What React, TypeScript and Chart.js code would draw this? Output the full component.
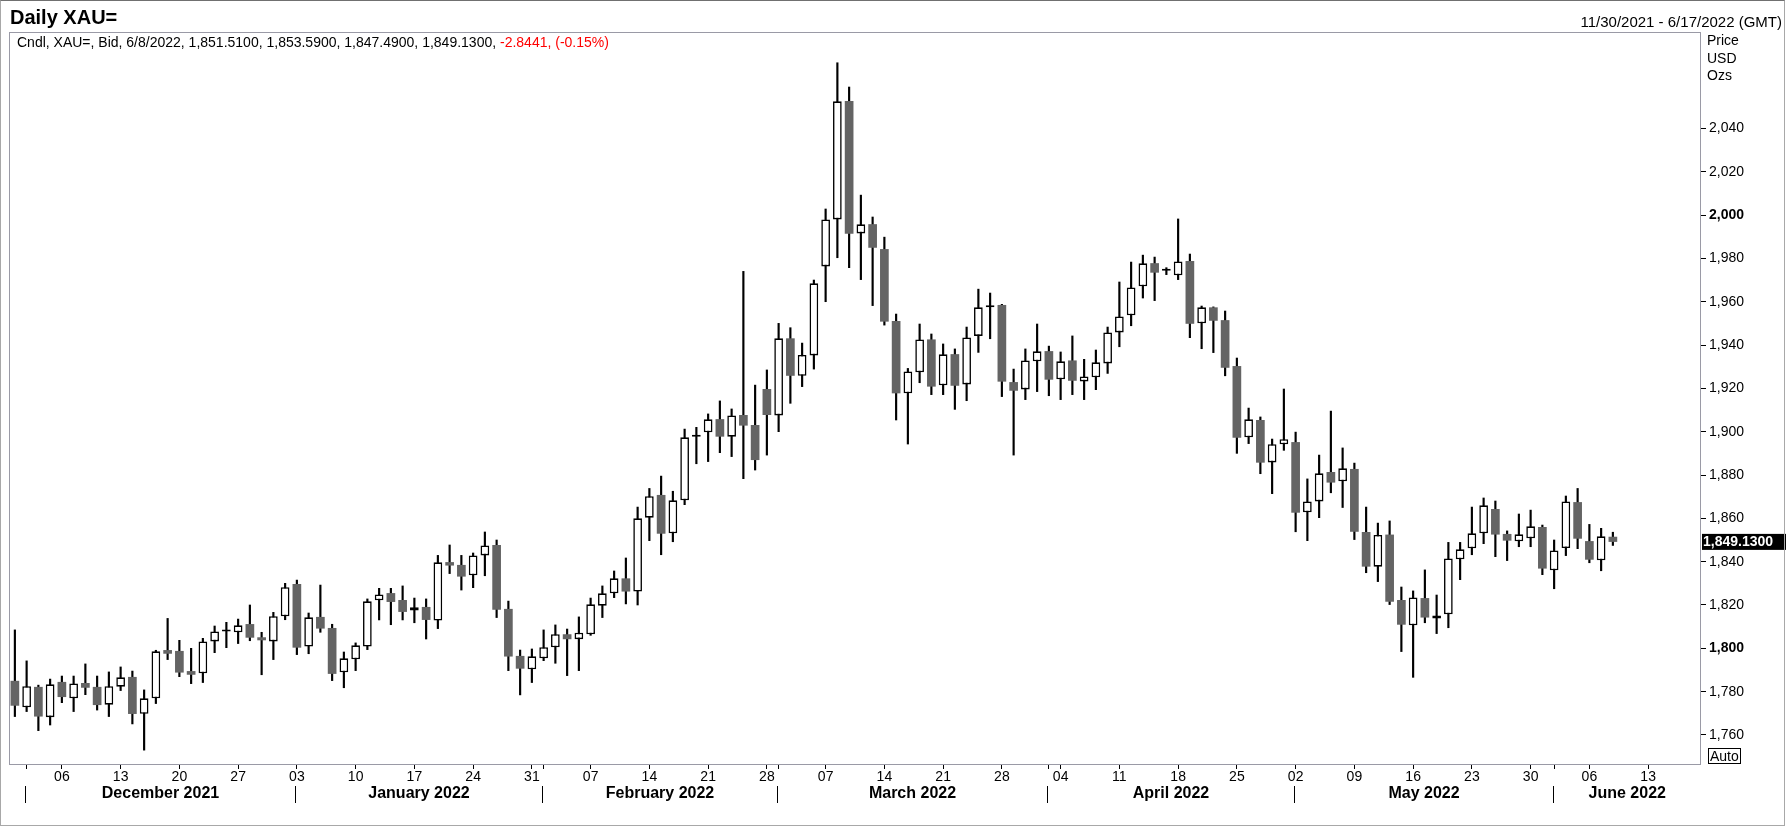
import React, { useEffect, useRef } from 'react';
import { Chart, registerables } from 'chart.js';

Chart.register(...registerables);

const FONT = '"Liberation Sans", Arial, sans-serif';

// weekday slots of the time axis (11/30/2021 - 6/17/2022)
const tradingDays = [
    '2021-11-30',
    '2021-12-01', '2021-12-02', '2021-12-03', '2021-12-06', '2021-12-07', '2021-12-08', '2021-12-09', '2021-12-10',
    '2021-12-13', '2021-12-14', '2021-12-15', '2021-12-16', '2021-12-17', '2021-12-20', '2021-12-21', '2021-12-22',
    '2021-12-23', '2021-12-24', '2021-12-27', '2021-12-28', '2021-12-29', '2021-12-30', '2021-12-31',
    '2022-01-03', '2022-01-04', '2022-01-05', '2022-01-06', '2022-01-07', '2022-01-10', '2022-01-11', '2022-01-12',
    '2022-01-13', '2022-01-14', '2022-01-17', '2022-01-18', '2022-01-19', '2022-01-20', '2022-01-21', '2022-01-24',
    '2022-01-25', '2022-01-26', '2022-01-27', '2022-01-28', '2022-01-31',
    '2022-02-01', '2022-02-02', '2022-02-03', '2022-02-04', '2022-02-07', '2022-02-08', '2022-02-09', '2022-02-10',
    '2022-02-11', '2022-02-14', '2022-02-15', '2022-02-16', '2022-02-17', '2022-02-18', '2022-02-21', '2022-02-22',
    '2022-02-23', '2022-02-24', '2022-02-25', '2022-02-28',
    '2022-03-01', '2022-03-02', '2022-03-03', '2022-03-04', '2022-03-07', '2022-03-08', '2022-03-09', '2022-03-10',
    '2022-03-11', '2022-03-14', '2022-03-15', '2022-03-16', '2022-03-17', '2022-03-18', '2022-03-21', '2022-03-22',
    '2022-03-23', '2022-03-24', '2022-03-25', '2022-03-28', '2022-03-29', '2022-03-30', '2022-03-31',
    '2022-04-01', '2022-04-04', '2022-04-05', '2022-04-06', '2022-04-07', '2022-04-08', '2022-04-11', '2022-04-12',
    '2022-04-13', '2022-04-14', '2022-04-15', '2022-04-18', '2022-04-19', '2022-04-20', '2022-04-21', '2022-04-22',
    '2022-04-25', '2022-04-26', '2022-04-27', '2022-04-28', '2022-04-29',
    '2022-05-02', '2022-05-03', '2022-05-04', '2022-05-05', '2022-05-06', '2022-05-09', '2022-05-10', '2022-05-11',
    '2022-05-12', '2022-05-13', '2022-05-16', '2022-05-17', '2022-05-18', '2022-05-19', '2022-05-20', '2022-05-23',
    '2022-05-24', '2022-05-25', '2022-05-26', '2022-05-27', '2022-05-30', '2022-05-31',
    '2022-06-01', '2022-06-02', '2022-06-03', '2022-06-06', '2022-06-07', '2022-06-08', '2022-06-09', '2022-06-10',
    '2022-06-13', '2022-06-14', '2022-06-15', '2022-06-16', '2022-06-17',
];

const opens = [
    1785, 1772.8, 1782.2, 1768.2, 1784.5, 1776.9, 1784, 1782.2, 1774, 1782.3,
    1786.8, 1769.8, 1776.9, 1799.2, 1798.8, 1789.5, 1788.5, 1803.2, 1807.8, 1807.4,
    1811.2, 1805.1, 1803.2, 1814.8, 1829.7, 1800.8, 1814.5, 1809.4, 1788.9, 1794.9,
    1800.8, 1822.2, 1825.5, 1822.3, 1817.4, 1819.1, 1812.8, 1839.8, 1838.5, 1833.7,
    1842.9, 1847.7, 1818.2, 1796.5, 1790.3, 1795.4, 1800.5, 1806.5, 1804.2, 1806.5,
    1819.7, 1825.4, 1832.3, 1826.2, 1860.3, 1870.8, 1853.1, 1868.3, 1897.7, 1899.7,
    1905.8, 1897.7, 1907.7, 1903.1, 1919.7, 1907.5, 1943.1, 1925.8, 1935.2, 1976.3,
    1998, 2052.6, 1991.5, 1995.8, 1984.3, 1951.1, 1917.7, 1927.4, 1942.6, 1921.4,
    1935.8, 1921.8, 1944.2, 1957.4, 1958.5, 1922.9, 1919.5, 1932.5, 1937.2, 1924.2,
    1932.9, 1923.2, 1925.1, 1931.5, 1945.8, 1953.7, 1967.1, 1977.8, 1974.3, 1972.2,
    1978.8, 1950, 1957.4, 1951.5, 1930.3, 1897.4, 1905.4, 1885.8, 1894.2, 1895.2,
    1862.8, 1867.8, 1881.4, 1877.1, 1882.8, 1853.7, 1837.7, 1852.5, 1822.3, 1810.6,
    1823.2, 1813.8, 1815.7, 1841.1, 1846.2, 1853.1, 1864.3, 1852.8, 1849.4, 1850.8,
    1856, 1836, 1846.3, 1867.5, 1849.5, 1840.6, 1851.51,
];

const highs = [
    1808.5, 1794.2, 1783, 1785.8, 1787.2, 1787.2, 1792.8, 1787.2, 1789.1, 1791.4,
    1789.5, 1780.8, 1799.1, 1813.8, 1803.7, 1800, 1804.6, 1810.3, 1812, 1813.5,
    1820, 1807.4, 1816.6, 1830, 1831.5, 1816.3, 1829.2, 1811.1, 1798.3, 1802.5,
    1822.8, 1827.7, 1827.7, 1828.8, 1823.2, 1822.8, 1842.9, 1847.7, 1842.9, 1844,
    1853.7, 1850, 1821.8, 1799.2, 1799.7, 1808.5, 1810.8, 1808.9, 1814.5, 1823.2,
    1828.8, 1835.7, 1841.7, 1865.2, 1873.8, 1879.5, 1872.5, 1901.2, 1902, 1908.2,
    1914.2, 1910.5, 1974, 1921.5, 1928.5, 1950, 1948, 1940.9, 1970, 2002.8,
    2070.3, 2059.1, 2009.2, 1999.1, 1989.8, 1954.3, 1929.2, 1949.7, 1945.1, 1940.5,
    1938.2, 1948.3, 1965.8, 1964, 1958.8, 1928.9, 1938.2, 1949.7, 1939.5, 1936.8,
    1944.2, 1933.4, 1937.7, 1948.3, 1969.1, 1978.3, 1981.5, 1980.6, 1975.7, 1998.2,
    1982, 1958, 1957.6, 1955.7, 1934, 1910.9, 1906.8, 1896.6, 1919.7, 1899.8,
    1878.2, 1889.2, 1909.5, 1892.5, 1885.5, 1865.2, 1857.8, 1858.8, 1828.3, 1826.5,
    1836.2, 1824.6, 1848.9, 1848.9, 1865.2, 1869.4, 1868, 1854.2, 1862, 1863.8,
    1856.9, 1850, 1870.3, 1873.8, 1857.2, 1855.4, 1853.59,
];

const lows = [
    1768.5, 1770.8, 1762, 1764.6, 1774.9, 1770.8, 1778.6, 1771.5, 1768.5, 1780.5,
    1765.1, 1753, 1774.5, 1794.8, 1786.9, 1783.7, 1784.2, 1798, 1800.3, 1802.2,
    1803.5, 1787.8, 1794.8, 1813.2, 1797.1, 1797.5, 1807.4, 1785.1, 1781.8, 1789.7,
    1799.4, 1813.1, 1810.9, 1813.1, 1811.8, 1804.3, 1809.1, 1834.5, 1826.9, 1828,
    1833.5, 1814.2, 1789.7, 1778.5, 1784.2, 1794.3, 1793.1, 1787.4, 1789.7, 1806,
    1814.2, 1823.4, 1820.5, 1820, 1849.7, 1843.2, 1849.2, 1866.3, 1885.2, 1886.2,
    1890.3, 1888.5, 1878.3, 1882.3, 1889.2, 1900, 1913.1, 1920.8, 1928.9, 1960,
    1980.3, 1975.7, 1970.2, 1958.2, 1949.2, 1905.4, 1894.3, 1922.6, 1917.1, 1917.1,
    1910.3, 1914.3, 1936.6, 1942.9, 1916.2, 1889.2, 1914.8, 1918.5, 1916.6, 1914.8,
    1917.1, 1914.8, 1919.4, 1926.9, 1939.2, 1948.9, 1961.7, 1960.5, 1972.5, 1970.2,
    1943.4, 1938.3, 1936.5, 1925.8, 1890, 1894.5, 1880.6, 1871.4, 1891.4, 1853.8,
    1849.7, 1860.3, 1871.8, 1865, 1850.2, 1834.9, 1830.8, 1820.2, 1798.5, 1786.6,
    1811.8, 1806.8, 1809.5, 1831.7, 1843.2, 1848.3, 1842.3, 1840.5, 1846.9, 1846.9,
    1834, 1827.5, 1842.8, 1846, 1839.5, 1835.8, 1847.49,
];

const closes = [
    1773.5, 1782.5, 1768.5, 1783.4, 1777.5, 1783.8, 1781.8, 1773.8, 1782.5, 1786.6,
    1769.7, 1776.9, 1798.6, 1797.5, 1788.8, 1787.8, 1803.2, 1807.8, 1808, 1810.6,
    1804.9, 1803.7, 1814.8, 1828.2, 1800.3, 1814.3, 1809.1, 1788.2, 1795.4, 1801.4,
    1821.7, 1824.9, 1821.4, 1816.8, 1818.9, 1813.1, 1839.7, 1838.2, 1833.1, 1842.9,
    1847.5, 1817.8, 1796.2, 1790.6, 1796.3, 1800.5, 1806.5, 1804.2, 1807.2, 1820.3,
    1825.4, 1832.3, 1826.2, 1860, 1870.2, 1852.9, 1868.3, 1897.4, 1898, 1905.7,
    1897.7, 1907.5, 1902.8, 1886.9, 1907.7, 1943.1, 1925.8, 1935.4, 1968.5, 1998,
    2052.5, 1991.4, 1995.7, 1984.9, 1950.8, 1917.7, 1927.8, 1942.6, 1920.8, 1935.7,
    1921.2, 1943.5, 1957.4, 1957.6, 1923.1, 1918.9, 1932.9, 1937.1, 1924, 1932.5,
    1923.5, 1925.5, 1932, 1945.8, 1953.2, 1966.6, 1977.7, 1973.4, 1974.5, 1978.6,
    1949.8, 1957.4, 1951.2, 1929.5, 1897.2, 1905.7, 1885.7, 1894.2, 1896.5, 1862.6,
    1867.8, 1880.8, 1876.5, 1883.1, 1853.8, 1837.7, 1852.3, 1821.5, 1810.9, 1823.5,
    1814.2, 1815.2, 1841.5, 1845.7, 1853.1, 1866, 1852.5, 1849.7, 1852.6, 1856.3,
    1836.8, 1845.2, 1867.8, 1850.6, 1840.9, 1851.7, 1849.13,
];

const monthLabels = ['December 2021', 'January 2022', 'February 2022', 'March 2022', 'April 2022', 'May 2022', 'June 2022'];

const isMonday = (d: string) => new Date(d + 'T00:00:00Z').getUTCDay() === 1;
const isMonthStart = (i: number) => i > 0 && tradingDays[i].slice(5, 7) !== tradingDays[i - 1].slice(5, 7);

const decorPlugin = {
    id: 'decor',
    afterDraw(chart: any) {
        const { ctx, chartArea: a, scales } = chart;
        const xs = scales.x;
        const ys = scales.y;
        ctx.save();

        // plot frame
        ctx.strokeStyle = '#9a9aa6';
        ctx.lineWidth = 1;
        ctx.strokeRect(a.left + 0.5, a.top + 0.5, a.right - a.left - 1, a.bottom - a.top);

        // month separators and names
        const starts: number[] = [];
        tradingDays.forEach((_, i) => { if (isMonthStart(i)) starts.push(i); });
        const px = starts.map(i => Math.round(xs.getPixelForValue(i) - 1.5) + 0.5);
        ctx.strokeStyle = '#000';
        ctx.beginPath();
        px.forEach(p => {
            ctx.moveTo(p, a.bottom + 22);
            ctx.lineTo(p, a.bottom + 39);
        });
        ctx.stroke();
        ctx.fillStyle = '#000';
        ctx.font = `bold 16px ${FONT}`;
        ctx.textAlign = 'center';
        ctx.textBaseline = 'middle';
        px.forEach((p, k) => {
            const next = k + 1 < px.length ? px[k + 1] : a.right;
            ctx.fillText(monthLabels[k], (p + next) / 2, a.bottom + 30);
        });

        // last price tag
        const last = closes[closes.length - 1];
        const yy = ys.getPixelForValue(last);
        ctx.fillStyle = '#000';
        ctx.fillRect(a.right + 1, yy - 8, 84, 16);
        ctx.fillStyle = '#fff';
        ctx.font = `bold 14px ${FONT}`;
        ctx.textAlign = 'left';
        ctx.fillText(last.toLocaleString('en-US', { minimumFractionDigits: 4 }), a.right + 2, yy + 0.5);
        ctx.restore();
    },
};

const CandleChart: React.FC = () => {
    const canvasRef = useRef<HTMLCanvasElement>(null);

    useEffect(() => {
        if (!canvasRef.current) return;
        const up = closes.map((c, i) => c >= opens[i]);

        const chart = new Chart(canvasRef.current, {
            type: 'bar',
            data: {
                labels: tradingDays,
                datasets: [
                    {
                        label: 'bodies',
                        data: closes.map((c, i) => [Math.min(opens[i], c), Math.max(opens[i], c)]),
                        backgroundColor: up.map(u => (u ? '#ffffff' : '#646464')),
                        borderColor: up.map(u => (u ? '#000000' : '#646464')),
                        borderWidth: up.map(u => (u ? 1.6 : 0)),
                        borderSkipped: false,
                        minBarLength: 2,
                        grouped: false,
                        barPercentage: 0.74,
                        categoryPercentage: 1,
                        order: 0,
                    } as any,
                    {
                        label: 'wicks',
                        data: lows.map((l, i) => [l, highs[i]]),
                        backgroundColor: '#000000',
                        borderWidth: 0,
                        grouped: false,
                        barThickness: 1.5,
                        order: 1,
                    } as any,
                ],
            },
            options: {
                animation: false,
                responsive: true,
                maintainAspectRatio: false,
                events: [],
                layout: { padding: { left: 9, top: 32, right: 7, bottom: 8 } },
                plugins: {
                    legend: { display: false },
                    tooltip: { enabled: false },
                },
                scales: {
                    x: {
                        type: 'category',
                        offset: true,
                        border: { display: false },
                        grid: { display: true, offset: false, drawOnChartArea: false, drawTicks: true, tickLength: 5, color: '#000' },
                        afterBuildTicks: (scale: any) => {
                            scale.ticks = scale.ticks.filter((t: any) => isMonday(tradingDays[t.value]) || isMonthStart(t.value));
                        },
                        afterFit: (scale: any) => { scale.height = 55; },
                        ticks: {
                            autoSkip: false,
                            maxRotation: 0,
                            padding: 0,
                            color: '#000',
                            font: { family: FONT, size: 14 },
                            callback: (value: any) => {
                                const d = tradingDays[value as number];
                                return isMonday(d) ? d.slice(8) : '';
                            },
                        },
                    },
                    y: {
                        type: 'linear',
                        position: 'right',
                        min: 1746.6,
                        max: 2084.5,
                        border: { display: false },
                        grid: { display: true, drawOnChartArea: false, drawTicks: true, tickLength: 5, color: '#000' },
                        afterBuildTicks: (scale: any) => {
                            scale.ticks = scale.ticks.filter((t: any) => t.value <= 2040);
                        },
                        afterFit: (scale: any) => { scale.width = 80; },
                        ticks: {
                            stepSize: 20,
                            includeBounds: false,
                            padding: 3,
                            color: '#000',
                            font: (c: any) => ({ family: FONT, size: 14, weight: c.tick && c.tick.value % 200 === 0 ? 'bold' : 'normal' }),
                            callback: (v: any) => Number(v).toLocaleString('en-US'),
                        },
                    },
                },
            },
            plugins: [decorPlugin],
        });

        return () => chart.destroy();
    }, []);

    return <canvas ref={canvasRef} />;
};

const txt: React.CSSProperties = { position: 'absolute', fontFamily: FONT, color: '#000', whiteSpace: 'nowrap' };

export default function App() {
    return (
        <div style={{ position: 'relative', width: 1788, height: 827, background: '#fff', overflow: 'hidden' }}>
            <style>{'body{margin:0}'}</style>
            <div style={{ position: 'absolute', left: 0, top: 0, width: 1788, height: 827 }}>
                <CandleChart />
            </div>
            <div style={{ position: 'absolute', left: 0, top: 0, width: 1785, height: 826, boxSizing: 'border-box', border: '1px solid #a8a8a8', borderTopColor: '#707070', pointerEvents: 'none' }} />
            <div style={{ ...txt, left: 10, top: 5, fontSize: 20, lineHeight: '24px', fontWeight: 'bold' }}>Daily XAU=</div>
            <div style={{ ...txt, right: 6, top: 13, fontSize: 15, lineHeight: '17px' }}>11/30/2021 - 6/17/2022 (GMT)</div>
            <div style={{ ...txt, left: 17, top: 34, fontSize: 14, lineHeight: '16px' }}>
                Cndl, XAU=, Bid, 6/8/2022, 1,851.5100, 1,853.5900, 1,847.4900, 1,849.1300,{' '}
                <span style={{ color: '#f00' }}>-2.8441, (-0.15%)</span>
            </div>
            <div style={{ ...txt, left: 1707, top: 32, fontSize: 14, lineHeight: '17.7px' }}>
                Price<br />USD<br />Ozs
            </div>
            <div style={{ ...txt, left: 1708, top: 748, fontSize: 14, lineHeight: '14px', border: '1px solid #000', padding: '0 1px' }}>Auto</div>
        </div>
    );
}
